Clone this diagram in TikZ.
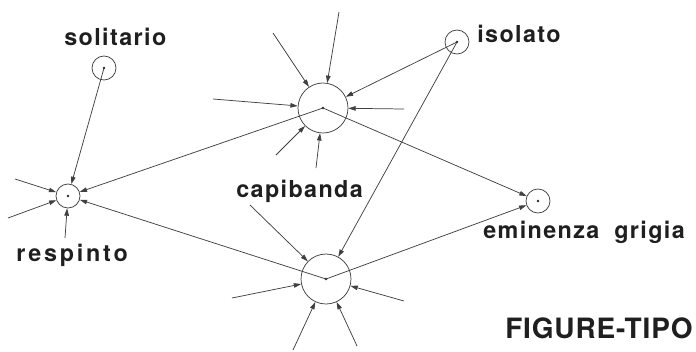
\documentclass[tikz,border=0pt]{standalone}
\usepackage{fontspec}
\setmainfont{TeX Gyre Heros}
\usetikzlibrary{arrows.meta}
\begin{document}
\begin{tikzpicture}[x=0.75pt,y=-0.75pt,
  ink/.style={draw=black!75, line width=0.55pt},
  pers/.style={circle, ink, inner sep=0pt, minimum size=#1},
  arr/.style={ink, -{Triangle[length=5.5pt,width=3.4pt]}},
  dot/.style={fill=black!85},
  lab/.style={font=\fontsize{17.5}{20}\selectfont\bfseries\addfontfeature{LetterSpace=6}, text=black!88, inner sep=0pt, anchor=base west},
  big/.style={font=\fontsize{21}{24}\selectfont\bfseries\addfontfeature{LetterSpace=3}, text=black!88, inner sep=0pt, anchor=base west}]
\fill[white] (0,0) rectangle (696,351);
\useasboundingbox (0,0) rectangle (696,351);

% persons
\node[pers=18pt] (sol) at (104,68) {};
\node[pers=18pt] (iso) at (457,42) {};
\node[pers=37.5pt] (capU) at (323,108) {};
\node[pers=37.5pt] (capD) at (326,279) {};
\node[pers=18pt] (resp) at (68,196) {};
\node[pers=18pt] (emi) at (538,201) {};
\foreach \n in {sol,iso,capU,capD,resp,emi}{\fill[dot] (\n.center) circle (1.1pt);}

% labels
\node[lab] (lsol) at (64,45) {solitario};
\node[lab] (liso) at (477,42) {isolato};
\node[lab] (lcap) at (236,197) {capibanda};
\node[lab, font=\fontsize{17.5}{20}\selectfont\bfseries\addfontfeature{LetterSpace=12}] (lresp) at (16,261) {respinto};
\node[lab] (lemi) at (483,238) {eminenza\hspace{0.3em} grigia};
\node[big] (ltit) at (505,338) {FIGURE-TIPO};

% free ends
\coordinate (u1) at (273,33);
\coordinate (u2) at (339,12);
\coordinate (u3) at (213,99);
\coordinate (u4) at (404,109);
\coordinate (u5) at (276,155);
\coordinate (u6) at (316,168);
\coordinate (d1) at (250,205);
\coordinate (d2) at (232,298);
\coordinate (d3) at (404,301);
\coordinate (d4) at (293,350);
\coordinate (d5) at (357,346);
\coordinate (r1) at (15,179);
\coordinate (r2) at (8,218);
\coordinate (r3) at (65,238);

% choices / rejections
\draw[arr] (sol.center) -- (resp);
\draw[arr] (capU.center) -- (resp);
\draw[arr] (capD.center) -- (resp);
\draw[arr] (capU.center) -- (emi);
\draw[arr] (capD.center) -- (emi);
\draw[arr] (iso.center) -- (capU);
\draw[arr] (iso.center) -- (capD);
\foreach \c in {u1,u2,u3,u4,u5,u6}{\draw[arr] (\c) -- (capU);}
\foreach \c in {d1,d2,d3,d4,d5}{\draw[arr] (\c) -- (capD);}
\foreach \c in {r1,r2,r3}{\draw[arr] (\c) -- (resp);}
\end{tikzpicture}
\end{document}
